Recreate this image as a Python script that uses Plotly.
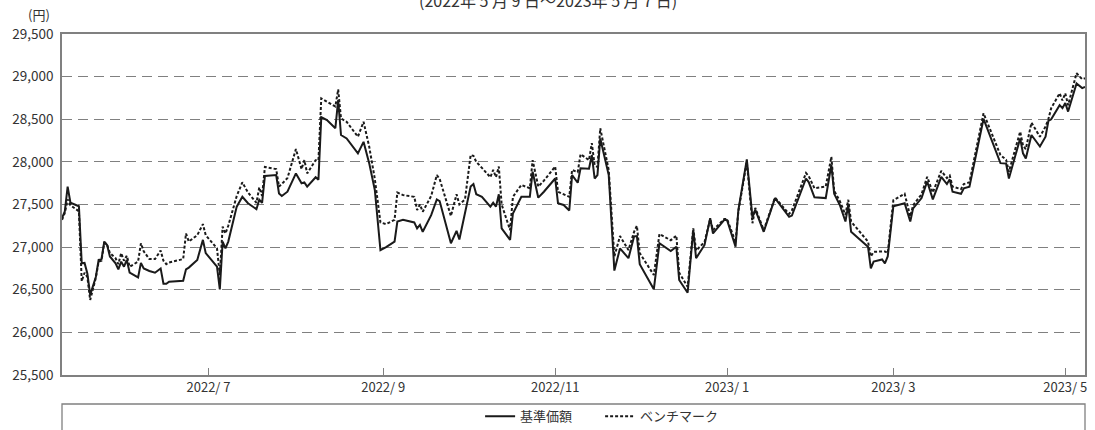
import plotly.graph_objects as go

dates = [
    "2022-05-10", "2022-05-11", "2022-05-12", "2022-05-13", "2022-05-16", "2022-05-17", "2022-05-18", "2022-05-19",
    "2022-05-20", "2022-05-22", "2022-05-23", "2022-05-24", "2022-05-25", "2022-05-26", "2022-05-27", "2022-05-29",
    "2022-05-30", "2022-05-31", "2022-06-01", "2022-06-02", "2022-06-03", "2022-06-06", "2022-06-07", "2022-06-08",
    "2022-06-10", "2022-06-12", "2022-06-14", "2022-06-15", "2022-06-16", "2022-06-17", "2022-06-22", "2022-06-23",
    "2022-06-24", "2022-06-27", "2022-06-29", "2022-06-30", "2022-07-04", "2022-07-05", "2022-07-06", "2022-07-07",
    "2022-07-08", "2022-07-11", "2022-07-13", "2022-07-15", "2022-07-18", "2022-07-19", "2022-07-20", "2022-07-21",
    "2022-07-25", "2022-07-26", "2022-07-27", "2022-07-29", "2022-08-01", "2022-08-03", "2022-08-04", "2022-08-05",
    "2022-08-08", "2022-08-09", "2022-08-10", "2022-08-12", "2022-08-15", "2022-08-16", "2022-08-17", "2022-08-19",
    "2022-08-23", "2022-08-25", "2022-08-27", "2022-08-29", "2022-08-31", "2022-09-02", "2022-09-05", "2022-09-06",
    "2022-09-08", "2022-09-12", "2022-09-13", "2022-09-14", "2022-09-15", "2022-09-18", "2022-09-20", "2022-09-21",
    "2022-09-25", "2022-09-27", "2022-09-28", "2022-09-30", "2022-10-02", "2022-10-03", "2022-10-04", "2022-10-06",
    "2022-10-09", "2022-10-10", "2022-10-11", "2022-10-12", "2022-10-13", "2022-10-16", "2022-10-17", "2022-10-20",
    "2022-10-23", "2022-10-24", "2022-10-26", "2022-10-28", "2022-11-01", "2022-11-02", "2022-11-04", "2022-11-06",
    "2022-11-07", "2022-11-09", "2022-11-10", "2022-11-13", "2022-11-14", "2022-11-15", "2022-11-16", "2022-11-17",
    "2022-11-18", "2022-11-20", "2022-11-22", "2022-11-24", "2022-11-27", "2022-11-29", "2022-11-30", "2022-12-01",
    "2022-12-06", "2022-12-08", "2022-12-12", "2022-12-14", "2022-12-15", "2022-12-18", "2022-12-20", "2022-12-21",
    "2022-12-24", "2022-12-26", "2022-12-27", "2022-12-31", "2023-01-01", "2023-01-04", "2023-01-05", "2023-01-08",
    "2023-01-10", "2023-01-11", "2023-01-14", "2023-01-18", "2023-01-23", "2023-01-24", "2023-01-29", "2023-01-30",
    "2023-02-01", "2023-02-05", "2023-02-07", "2023-02-08", "2023-02-10", "2023-02-12", "2023-02-13", "2023-02-14",
    "2023-02-20", "2023-02-21", "2023-02-22", "2023-02-25", "2023-02-26", "2023-02-27", "2023-03-01", "2023-03-05",
    "2023-03-07", "2023-03-08", "2023-03-11", "2023-03-13", "2023-03-15", "2023-03-18", "2023-03-20", "2023-03-21",
    "2023-03-22", "2023-03-25", "2023-03-26", "2023-03-28", "2023-04-02", "2023-04-08", "2023-04-10", "2023-04-11",
    "2023-04-15", "2023-04-16", "2023-04-17", "2023-04-19", "2023-04-22", "2023-04-24", "2023-04-25", "2023-04-26",
    "2023-04-29", "2023-04-30", "2023-05-01", "2023-05-02", "2023-05-05", "2023-05-07", "2023-05-08",
]

nav = [
    27340, 27420, 27710, 27520, 27480, 26810, 26815, 26690,
    26440, 26650, 26850, 26855, 27065, 27025, 26890, 26810,
    26740, 26830, 26770, 26850, 26700, 26645, 26815, 26750,
    26720, 26700, 26750, 26570, 26570, 26595, 26605, 26740,
    26760, 26850, 27085, 26930, 26770, 26505, 27065, 26985,
    27065, 27475, 27590, 27515, 27445, 27555, 27520, 27835,
    27845, 27630, 27600, 27650, 27865, 27750, 27760, 27710,
    27820, 27790, 28525, 28490, 28395, 28725, 28315, 28275,
    28100, 28235, 27985, 27670, 26965, 27000, 27065, 27300,
    27320, 27290, 27220, 27260, 27180, 27375, 27560, 27540,
    27045, 27190, 27090, 27415, 27710, 27740, 27620, 27590,
    27475, 27520, 27475, 27620, 27220, 27085, 27395, 27590,
    27590, 27885, 27580, 27650, 27805, 27515, 27495, 27430,
    27845, 27755, 27925, 27920, 28080, 27805, 27845, 28275,
    28120, 27845, 26725, 26985, 26870, 27125, 27130, 26800,
    26505, 27045, 26955, 27005, 26615, 26465, 27200, 26870,
    27025, 27340, 27160, 27320, 27315, 27005, 27435, 28030,
    27350, 27440, 27180, 27575, 27355, 27370, 27805, 27760,
    27585, 27575, 27965, 27625, 27495, 27300, 27495, 27180,
    27005, 26750, 26830, 26855, 26810, 26890, 27480, 27515,
    27300, 27455, 27575, 27770, 27560, 27825, 27740, 27795,
    27650, 27625, 27690, 27710, 28505, 27985, 27980, 27805,
    28275, 28100, 28040, 28315, 28180, 28295, 28480, 28500,
    28665, 28630, 28690, 28590, 28920, 28865, 28880,
]

bench = [
    27320, 27400, 27560, 27490, 27420, 26600, 26700, 26650,
    26380, 26640, 26830, 26840, 27050, 27030, 26930, 26870,
    26800, 26930, 26840, 26900, 26770, 26830, 27045, 26950,
    26860, 26860, 26960, 26840, 26800, 26820, 26860, 27160,
    27065, 27140, 27270, 27140, 26985, 26670, 27240, 27160,
    27250, 27600, 27760, 27640, 27520, 27700, 27600, 27940,
    27915, 27710, 27740, 27810, 28150, 27915, 28020, 27865,
    28020, 28020, 28745, 28710, 28650, 28850, 28510, 28470,
    28295, 28470, 28180, 27800, 27290, 27270, 27320, 27640,
    27610, 27590, 27435, 27500, 27415, 27600, 27845, 27800,
    27365, 27620, 27500, 27560, 28080, 28070, 28000, 27930,
    27820, 27905, 27820, 27945, 27500, 27200, 27590, 27730,
    27690, 28020, 27710, 27780, 27945, 27650, 27620, 27590,
    27905, 27880, 28090, 28020, 28220, 27960, 27940, 28395,
    28230, 27905, 26890, 27130, 26965, 27180, 27250, 26930,
    26673, 27155, 27080, 27135, 26700, 26535, 27220, 26960,
    27060, 27330, 27200, 27330, 27330, 27060, 27420, 28000,
    27280, 27460, 27200, 27580, 27390, 27430, 27870, 27830,
    27690, 27710, 28060, 27660, 27540, 27380, 27555, 27300,
    27065, 26890, 26945, 26945, 26950, 26930, 27550, 27625,
    27360, 27490, 27620, 27825, 27640, 27895, 27810, 27840,
    27710, 27680, 27740, 27760, 28570, 28080, 28025, 27885,
    28355, 28190, 28150, 28460, 28295, 28415, 28500, 28630,
    28805, 28720, 28805, 28665, 29040, 28970, 28980,
]

x_tick_vals = ["2022-07-01", "2022-09-01", "2022-11-01", "2023-01-01", "2023-03-01", "2023-05-01"]
x_tick_text = ["2022/ 7", "2022/ 9", "2022/11", "2023/ 1", "2023/ 3", "2023/ 5"]
y_tick_vals = [25500, 26000, 26500, 27000, 27500, 28000, 28500, 29000, 29500]
y_tick_text = ["25,500", "26,000", "26,500", "27,000", "27,500", "28,000", "28,500", "29,000", "29,500"]

FONT = "Noto Sans CJK JP"
GRAY = "#808080"
TXT = "#333333"

fig = go.Figure()
fig.add_trace(go.Scatter(x=dates, y=nav, mode="lines", name="基準価額",
                         line=dict(color="#1a1a1a", width=2)))
fig.add_trace(go.Scatter(x=dates, y=bench, mode="lines", name="ベンチマーク",
                         line=dict(color="#1a1a1a", width=2, dash="3px,2px")))

fig.update_layout(
    width=1095, height=430,
    margin=dict(l=62, r=10, t=34, b=55, autoexpand=False),
    paper_bgcolor="white", plot_bgcolor="white",
    font=dict(family=FONT, size=13, color=TXT),
    showlegend=True,
    legend=dict(orientation="h", x=0.526, xanchor="center", y=-0.121, yanchor="middle",
                font=dict(family=FONT, size=13, color=TXT), bgcolor="rgba(0,0,0,0)",
                itemwidth=30, entrywidth=75),
    xaxis=dict(
        type="date", range=["2022-05-10", "2023-05-08"], automargin=False,
        tickvals=x_tick_vals, ticktext=x_tick_text, ticklabeloverflow="allow",
        ticks="inside", ticklen=7, tickcolor=GRAY, tickwidth=1,
        showgrid=False, showline=True, linecolor=GRAY, linewidth=1.5, mirror=True,
        zeroline=False, tickfont=dict(family=FONT, size=13, color=TXT),
    ),
    yaxis=dict(
        range=[25500, 29500], tickvals=y_tick_vals, ticktext=y_tick_text, automargin=False,
        ticks="", showgrid=True, gridcolor=GRAY, gridwidth=1, griddash="10px,6px",
        showline=True, linecolor=GRAY, linewidth=1.5, mirror=True,
        zeroline=False, ticklabelstandoff=4,
        tickfont=dict(family=FONT, size=13.5, color=TXT),
    ),
    shapes=[dict(type="rect", xref="paper", yref="paper", x0=0, x1=1,
                 y0=-0.25, y1=-0.085, line=dict(color=GRAY, width=1.3),
                 fillcolor="rgba(0,0,0,0)")],
    annotations=[
        dict(text="(円)", xref="paper", yref="paper", x=-0.0098, y=1.058, xanchor="right",
             yanchor="middle", showarrow=False, font=dict(family=FONT, size=13, color=TXT)),
        dict(text="(2022年 5 月 9 日～2023年 5 月 7 日)", xref="paper", yref="paper",
             x=(548 - 62) / 1023, y=(375 + 0) / 341, xanchor="center", yanchor="middle",
             showarrow=False, font=dict(family=FONT, size=16, color=TXT)),
    ],
)

fig.write_html("out.html", config={"displayModeBar": False},
               post_script="document.body.style.margin='0px';document.body.style.padding='0px';")
